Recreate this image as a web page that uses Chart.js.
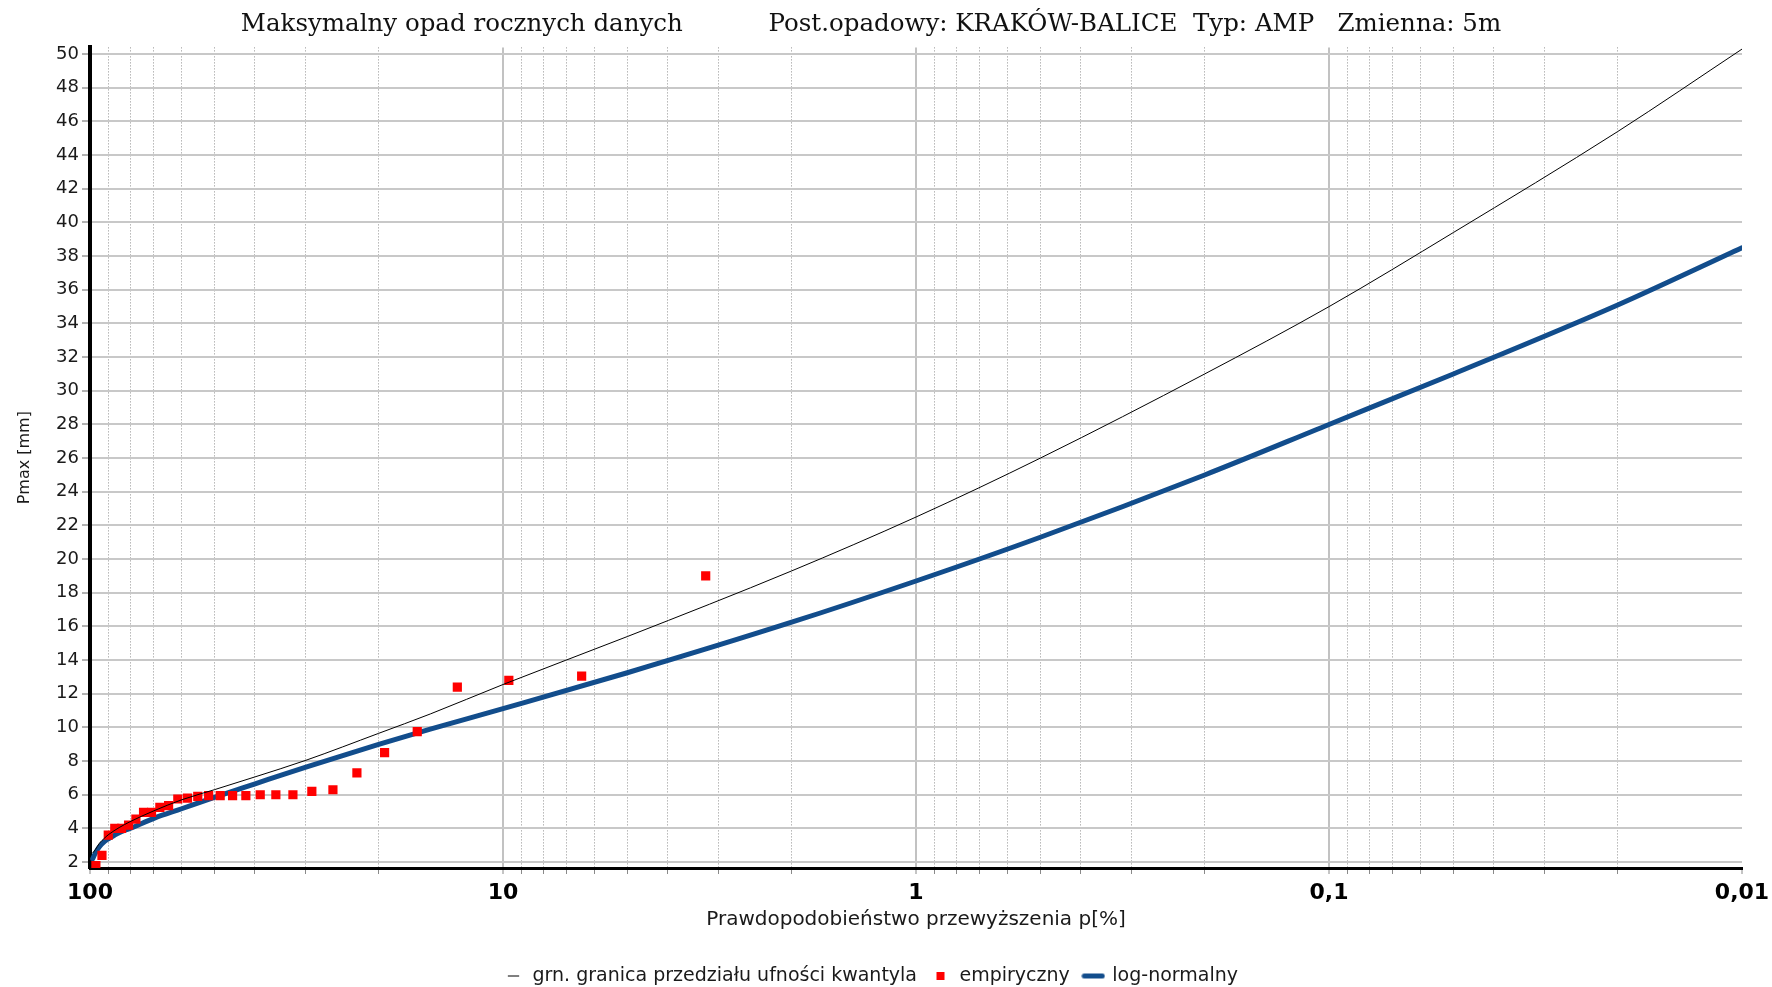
<!DOCTYPE html>
<html>
<head>
<meta charset="utf-8">
<title>Maksymalny opad rocznych danych</title>
<script src="https://cdn.jsdelivr.net/npm/chart.js@4.4.1/dist/chart.umd.min.js"></script>
<style>
  html, body { margin: 0; padding: 0; background: #fff; }
  #wrap { width: 1772px; height: 987px; }
</style>
</head>
<body>
<div id="wrap"><canvas id="opadChart" width="1772" height="987"></canvas></div>
<script>
// prawdopodobieństwo przewyższenia p[%] dla krzywych
const pCurve = [98.5, 97, 95, 92, 90, 85, 80, 70, 60, 50, 40, 30, 20, 15, 10, 5, 2, 1, 0.5, 0.2, 0.1, 0.05, 0.02, 0.01];
const logNormal = [2.2, 2.55, 2.9, 3.25, 3.4, 3.75, 4.0, 4.6, 5.17, 5.85, 6.64, 7.65, 9.0, 9.9, 11.12, 13.25, 16.25, 18.7, 21.3, 25.0, 28.0, 31.0, 35.1, 38.5];
const upperBound = [2.55, 2.75, 3.1, 3.45, 3.65, 4.05, 4.4, 5.05, 5.7, 6.3, 7.05, 8.05, 9.65, 10.8, 12.55, 15.4, 19.3, 22.5, 26.0, 31.0, 35.0, 39.4, 45.4, 50.3];

// punkty empiryczne
const pEmp = [3.23, 6.45, 9.68, 12.9, 16.13, 19.35, 22.58, 25.81, 29.03, 32.26, 35.48, 38.71, 41.94, 45.16, 48.39,
              51.61, 54.84, 58.06, 61.29, 64.52, 67.74, 70.97, 74.19, 77.42, 80.65, 83.87, 87.1, 90.32, 93.55, 96.77];
const empirical = [19.0, 13.05, 12.8, 12.4, 9.75, 8.5, 7.3, 6.3, 6.2, 6.0, 6.0, 6.0, 5.95, 5.95, 5.95,
                   5.95, 5.9, 5.8, 5.75, 5.35, 5.25, 4.95, 4.95, 4.55, 4.2, 4.0, 4.0, 3.6, 2.4, 1.8];

// osie
const xDecades = [100, 10, 1, 0.1, 0.01];
const xTickLabels = ['100', '10', '1', '0,1', '0,01'];
const yTicks = [2, 4, 6, 8, 10, 12, 14, 16, 18, 20, 22, 24, 26, 28, 30, 32, 34, 36, 38, 40, 42, 44, 46, 48, 50];

const BLUE = '#124d8c';
const RED = '#ff0000';

const toPoints = (xs, ys) => xs.map((x, i) => ({ x: x, y: ys[i] }));
const isDecade = v => xDecades.includes(v);

// znacznik legendy dla grubej linii
const blueMarker = document.createElement('canvas');
blueMarker.width = 24;
blueMarker.height = 7;
(() => {
    const c = blueMarker.getContext('2d');
    c.strokeStyle = BLUE;
    c.lineWidth = 5;
    c.lineCap = 'round';
    c.beginPath();
    c.moveTo(3, 3.5);
    c.lineTo(21, 3.5);
    c.stroke();
})();

Chart.defaults.font.family = 'DejaVu Sans';
Chart.defaults.color = '#1a1a1a';

const ctx = document.getElementById('opadChart');

new Chart(ctx, {
    type: 'scatter',
    data: {
        datasets: [
            {
                label: 'grn. granica przedziału ufności kwantyla',
                data: toPoints(pCurve, upperBound),
                showLine: true,
                borderColor: '#000000',
                backgroundColor: '#000000',
                borderWidth: 1,
                pointRadius: 0,
                pointStyle: 'line',
                cubicInterpolationMode: 'monotone',
            },
            {
                label: 'empiryczny',
                data: toPoints(pEmp, empirical),
                showLine: false,
                pointStyle: 'rect',
                pointRadius: 6.5,
                backgroundColor: RED,
                borderColor: RED,
                borderWidth: 0,
            },
            {
                label: 'log-normalny',
                data: toPoints(pCurve, logNormal),
                showLine: true,
                borderColor: BLUE,
                backgroundColor: BLUE,
                borderWidth: 5,
                borderCapStyle: 'round',
                pointRadius: 0,
                pointStyle: blueMarker,
                cubicInterpolationMode: 'monotone',
            },
        ],
    },
    options: {
        responsive: false,
        animation: false,
        devicePixelRatio: 1,
        layout: { padding: { left: 0, right: 30, top: 0, bottom: -8.5 } },
        plugins: {
            title: {
                display: true,
                text: 'Maksymalny opad rocznych danych           Post.opadowy: KRAKÓW-BALICE  Typ: AMP   Zmienna: 5m',
                font: { family: 'DejaVu Serif', size: 24.5, weight: 'normal' },
                color: '#111',
                padding: { top: 10, bottom: 8 },
            },
            legend: {
                position: 'bottom',
                labels: {
                    usePointStyle: true,
                    boxHeight: 8,
                    padding: 14,
                    font: { size: 19 },
                    color: '#1a1a1a',
                },
            },
            tooltip: { enabled: false },
        },
        scales: {
            x: {
                type: 'logarithmic',
                reverse: true,
                min: 0.01,
                max: 100,
                afterBuildTicks: scale => {
                    const t = [];
                    xDecades.forEach(d => {
                        if (d < 100) {
                            for (let k = 1; k < 10; k++) t.push({ value: d * k });
                        }
                    });
                    t.push({ value: 100 });
                    scale.ticks = t;
                },
                afterFit: scale => { scale.height = 84.5; },
                ticks: {
                    autoSkip: false,
                    maxRotation: 0,
                    padding: 6,
                    color: '#000',
                    font: { size: 22, weight: 'bold' },
                    callback: value => {
                        const i = xDecades.indexOf(value);
                        return i >= 0 ? xTickLabels[i] : '';
                    },
                },
                grid: {
                    color: c => {
                        const v = c.tick ? c.tick.value : null;
                        if (v === 0.01) return 'rgba(0,0,0,0)';
                        return isDecade(v) ? '#c2c2c2' : '#909090';
                    },
                    lineWidth: c => (c.tick && isDecade(c.tick.value) ? 2 : 1),
                    tickColor: '#8a8a8a',
                    tickLength: 6,
                    tickWidth: 1,
                },
                border: {
                    color: '#000',
                    width: 3,
                    dash: c => (c.tick && !isDecade(c.tick.value) ? [1, 2] : []),
                },
                title: {
                    display: true,
                    text: 'Prawdopodobieństwo przewyższenia p[%]',
                    font: { size: 20 },
                    color: '#1a1a1a',
                    padding: { top: 0, bottom: 21 },
                },
            },
            y: {
                type: 'linear',
                min: 1.65,
                max: 50.4,
                afterBuildTicks: scale => {
                    scale.ticks = yTicks.map(v => ({ value: v }));
                },
                afterFit: scale => { scale.width = 90; },
                ticks: {
                    autoSkip: false,
                    padding: 3,
                    color: '#1a1a1a',
                    font: { size: 18 },
                },
                grid: {
                    color: '#c8c8c8',
                    lineWidth: 2,
                    tickColor: '#666',
                    tickLength: 8,
                    tickWidth: 1,
                },
                border: { color: '#000', width: 4 },
                title: {
                    display: true,
                    text: 'Pmax [mm]',
                    font: { size: 16 },
                    color: '#1a1a1a',
                    padding: { top: 15, bottom: 0 },
                },
            },
        },
    },
});
</script>
</body>
</html>
